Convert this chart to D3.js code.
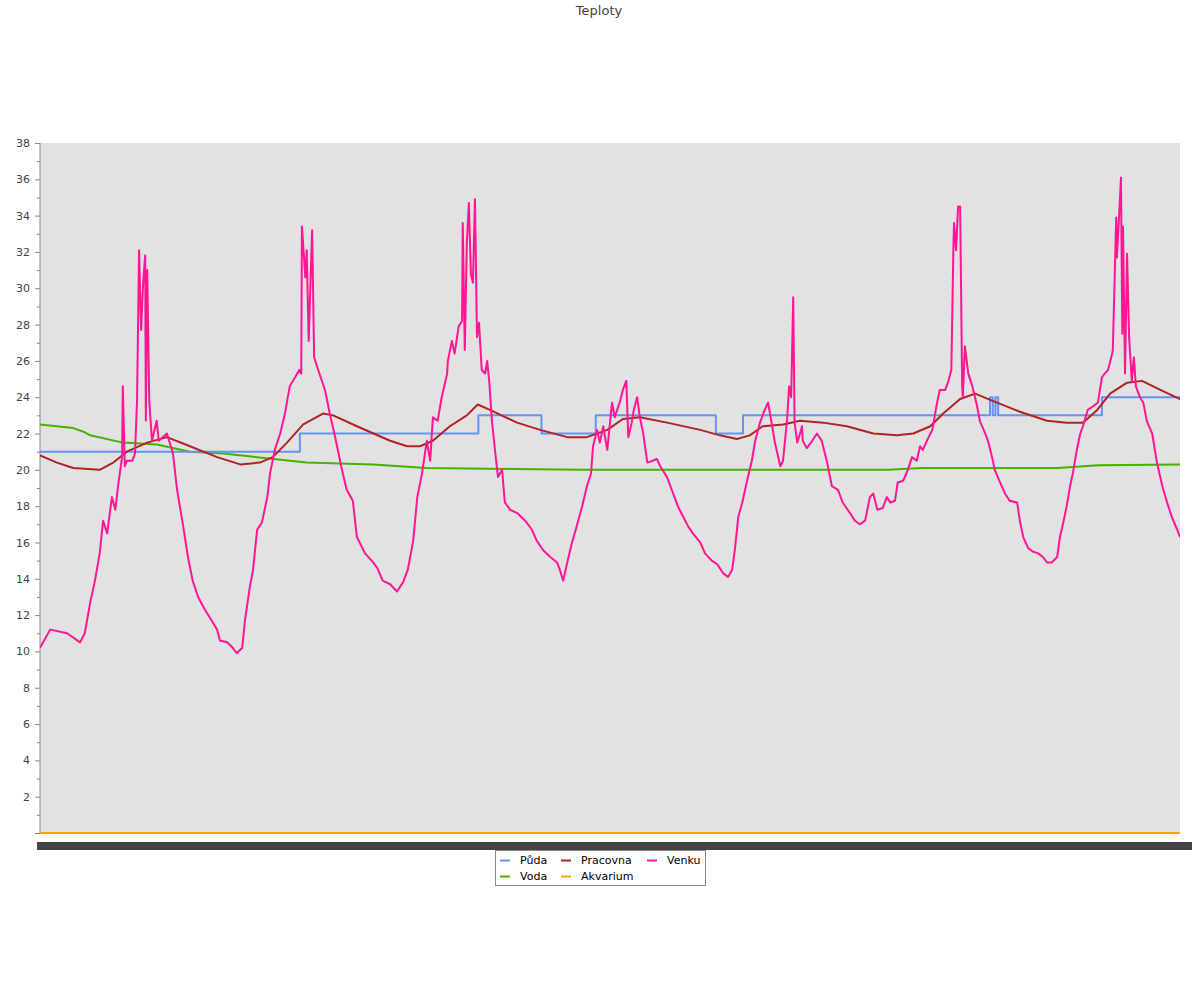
<!DOCTYPE html>
<html><head><meta charset="utf-8">
<script src="https://cdn.jsdelivr.net/npm/d3@7"></script>
<style>body{margin:0;background:#fff;font-family:"DejaVu Sans",sans-serif;}</style>
</head><body>
<script>
const title = "Teploty";
const seriesNames = ["Půda","Pracovna","Venku","Voda","Akvarium"];
const seriesColors = ["#6495ed","#b22222","#ff1493","#44b400","#ffa500"];
const yTicks = [2,4,6,8,10,12,14,16,18,20,22,24,26,28,30,32,34,36,38];
const yMinor = [0,1,3,5,7,9,11,13,15,17,19,21,23,25,27,29,31,33,35,37];

// time in hours, value in °C
const puda = [[0,21],[38.3,22],[64.6,23],[73.9,22],[81.9,23],[99.6,22],[103.6,23],[140.0,24],[140.4,23],[140.8,24],[141.2,23],[156.5,24],[168,24]];
const pracovna = [[0,20.8],[2.5,20.4],[4.9,20.1],[8.8,20.0],[10.8,20.4],[12.8,21.0],[15.8,21.5],[18.7,21.8],[22.1,21.3],[26.1,20.7],[29.5,20.3],[32.4,20.4],[34.3,20.7],[36.4,21.5],[38.8,22.5],[41.7,23.1],[43.2,23.0],[46.7,22.4],[51.6,21.6],[54.1,21.3],[56.0,21.3],[57.9,21.6],[60.4,22.4],[62.9,23.0],[64.5,23.6],[66.3,23.3],[70.3,22.6],[73.7,22.2],[77.7,21.8],[80.6,21.8],[83.6,22.2],[85.9,22.8],[88.4,22.9],[92.4,22.6],[97.3,22.2],[100.2,21.9],[102.7,21.7],[104.6,21.9],[106.5,22.4],[109.5,22.5],[112.0,22.7],[115.4,22.6],[118.9,22.4],[122.8,22.0],[126.3,21.9],[128.7,22.0],[131.2,22.4],[133.1,23.1],[135.6,23.9],[137.8,24.2],[140.4,23.8],[144.4,23.2],[148.4,22.7],[151.3,22.6],[153.7,22.6],[155.8,23.3],[157.7,24.2],[160.2,24.8],[162.4,24.9],[165.1,24.4],[168,23.9]];
const venku = [[0,10.2],[1.5,11.2],[4.0,11.0],[5.9,10.5],[6.6,11.0],[7.4,12.7],[8.1,13.9],[8.8,15.4],[9.3,17.2],[9.9,16.5],[10.6,18.5],[11.1,17.8],[11.5,19.1],[12.1,20.7],[12.2,24.6],[12.5,20.2],[12.8,20.5],[13.6,20.5],[14.0,20.9],[14.3,23.8],[14.6,32.1],[14.9,27.7],[15.2,30.3],[15.5,31.8],[15.6,22.7],[15.8,31.0],[16.1,23.8],[16.5,21.6],[17.2,22.7],[17.5,21.6],[18.7,22.0],[19.6,20.9],[20.2,18.9],[21.1,16.9],[21.8,15.2],[22.5,13.9],[23.3,13.0],[24.3,12.3],[25.3,11.7],[26.1,11.2],[26.5,10.6],[27.6,10.5],[28.4,10.2],[29.0,9.9],[29.8,10.2],[30.2,11.7],[30.9,13.5],[31.4,14.5],[32.0,16.7],[32.7,17.1],[33.5,18.5],[33.9,19.8],[34.6,21.1],[35.4,22.0],[36.1,23.1],[36.8,24.6],[37.6,25.1],[38.2,25.5],[38.5,25.3],[38.6,33.4],[39.1,30.6],[39.3,32.1],[39.6,27.1],[40.1,33.2],[40.4,26.2],[41.0,25.5],[42.0,24.4],[42.7,23.1],[43.5,21.8],[44.5,20.0],[45.2,18.9],[46.1,18.3],[46.7,16.3],[47.9,15.4],[49.1,14.9],[49.7,14.6],[50.5,13.9],[51.6,13.7],[52.6,13.3],[53.5,13.8],[54.2,14.5],[55.0,16.1],[55.6,18.5],[56.3,19.8],[57.0,21.6],[57.5,20.5],[57.9,22.9],[58.6,22.7],[59.2,24.0],[60.0,25.3],[60.1,26.0],[60.7,27.1],[61.1,26.4],[61.7,27.9],[62.2,28.2],[62.3,33.6],[62.6,26.6],[62.9,32.5],[63.2,34.7],[63.5,30.8],[63.8,30.3],[64.1,34.9],[64.4,27.3],[64.7,28.1],[65.1,25.5],[65.6,25.3],[65.9,26.0],[66.2,24.9],[66.6,22.7],[67.1,20.9],[67.5,19.6],[68.1,20.0],[68.5,18.2],[69.3,17.8],[70.4,17.6],[71.5,17.2],[72.5,16.7],[73.2,16.1],[74.1,15.6],[75.2,15.2],[76.2,14.9],[76.6,14.5],[77.1,13.9],[77.7,14.9],[78.4,16.0],[79.1,16.9],[79.9,18.0],[80.6,19.1],[81.2,19.8],[81.5,21.3],[82.1,22.2],[82.5,21.5],[83.0,22.4],[83.6,21.1],[84.3,23.7],[84.7,22.9],[85.5,23.8],[85.9,24.4],[86.4,24.9],[86.7,21.8],[87.2,22.6],[87.5,23.3],[88.0,24.0],[88.4,22.9],[88.9,22.0],[89.5,20.4],[90.3,20.5],[90.9,20.6],[91.4,20.2],[92.4,19.6],[93.3,18.7],[94.0,18.0],[94.8,17.4],[95.5,16.9],[96.2,16.5],[97.3,16.0],[98.0,15.4],[99.0,15.0],[99.8,14.8],[100.7,14.3],[101.4,14.1],[102.0,14.5],[102.4,15.6],[102.9,17.4],[103.5,18.2],[104.2,19.4],[104.9,20.5],[105.4,21.6],[106.1,22.6],[106.8,23.3],[107.3,23.7],[107.9,22.4],[108.3,21.5],[109.1,20.2],[109.5,20.5],[110.1,22.8],[110.4,24.6],[110.7,24.0],[111.0,29.5],[111.2,22.6],[111.6,21.5],[112.0,22.0],[112.3,22.4],[112.4,21.6],[113.0,21.2],[113.8,21.6],[114.5,22.0],[115.2,21.6],[116.0,20.4],[116.7,19.1],[117.6,18.9],[118.3,18.2],[119.4,17.6],[120.1,17.2],[120.8,17.0],[121.6,17.2],[122.3,18.5],[122.8,18.7],[123.4,17.8],[124.2,17.9],[124.8,18.5],[125.3,18.2],[126.0,18.3],[126.4,19.3],[127.2,19.4],[127.9,20.0],[128.5,20.7],[129.2,20.5],[129.7,21.3],[130.1,21.1],[130.7,21.6],[131.5,22.2],[132.2,23.7],[132.6,24.4],[133.4,24.4],[133.8,24.8],[134.3,25.5],[134.6,32.1],[134.7,33.6],[135.0,32.1],[135.3,34.5],[135.6,34.5],[135.9,24.6],[136.0,24.0],[136.3,26.8],[136.8,25.3],[137.4,24.6],[138.1,23.5],[138.5,22.7],[139.3,22.0],[139.7,21.6],[140.3,20.7],[140.7,20.0],[141.5,19.3],[142.2,18.7],[142.9,18.3],[144.0,18.2],[144.4,17.2],[144.9,16.3],[145.6,15.7],[146.3,15.5],[147.1,15.4],[147.8,15.2],[148.4,14.9],[149.1,14.9],[149.9,15.2],[150.3,16.3],[150.8,17.1],[151.3,18.0],[151.8,19.1],[152.2,19.8],[152.8,21.1],[153.3,22.0],[153.7,22.4],[154.4,23.3],[155.2,23.5],[155.9,23.7],[156.5,25.1],[156.9,25.3],[157.4,25.5],[158.0,26.4],[158.1,26.6],[158.6,33.9],[158.7,31.7],[159.0,33.8],[159.3,36.1],[159.5,27.5],[159.6,33.4],[159.9,25.3],[160.2,31.9],[160.5,27.3],[160.9,24.9],[161.2,26.2],[161.5,24.6],[162.1,24.0],[162.6,23.7],[163.1,22.7],[163.9,22.0],[164.6,20.4],[165.4,19.1],[166.1,18.2],[166.8,17.4],[167.6,16.7],[168.0,16.3]];
const voda = [[0,22.5],[4.9,22.3],[6.4,22.1],[7.4,21.9],[12.2,21.5],[17.2,21.4],[22.1,21.0],[27.0,20.9],[32.0,20.7],[39.3,20.4],[49.1,20.3],[53.0,20.2],[57.0,20.1],[70,20.05],[80,20.0],[100,20.0],[115,20.0],[125,20.0],[130,20.1],[150,20.1],[156,20.25],[168,20.3]];
const akvarium = [[0,0],[168,0]];
const seriesData = [puda, pracovna, venku, voda, akvarium];
const drawOrder = [4,3,0,1,2];

const W = 1200, H = 1000;
const svg = d3.select("body").append("svg").attr("width",W).attr("height",H);
svg.append("rect").attr("width",W).attr("height",H).attr("fill","#fff");

const x = d3.scaleLinear().domain([0,168]).range([40,1180]);
const y = d3.scaleLinear().domain([0,38]).range([833,143]);

svg.append("text").attr("x",599).attr("y",15).attr("text-anchor","middle")
  .attr("font-size",13).attr("fill","#444").text(title);

svg.append("rect").attr("x",x(0)).attr("y",y(38)).attr("width",x(168)-x(0)).attr("height",y(0)-y(38)).attr("fill","#e2e2e2");

svg.append("clipPath").attr("id","clip").append("rect")
  .attr("x",x(0)).attr("y",y(38)-2).attr("width",x(168)-x(0)).attr("height",y(0)-y(38)+4);

const yAxis = svg.append("g").attr("transform",`translate(${x(0)},0)`)
  .call(d3.axisLeft(y).tickValues(yTicks).tickSize(5).tickPadding(5).tickFormat(d3.format("d")));
yAxis.select(".domain").attr("stroke","#888").attr("d",`M0,${y(38)}V${y(0)}`);
yAxis.selectAll(".tick line").attr("stroke","#888");
yAxis.selectAll(".tick text").attr("fill","#444").attr("font-size",11).attr("font-family","DejaVu Sans");
svg.append("g").selectAll("line").data(yMinor).join("line")
  .attr("x1",x(0)).attr("x2",d=>x(0)-(d===0?5:3)).attr("y1",d=>y(d)+0.5).attr("y2",d=>y(d)+0.5)
  .attr("stroke","#888");

const line = d3.line().x(d=>x(d[0])).y(d=>y(d[1]));
const g = svg.append("g").attr("clip-path","url(#clip)");
drawOrder.forEach(i=>{
  const ln = i===0 ? d3.line().x(d=>x(d[0])).y(d=>y(d[1])).curve(d3.curveStepAfter) : line;
  g.append("path").datum(seriesData[i]).attr("d",ln).attr("fill","none")
    .attr("stroke",seriesColors[i]).attr("stroke-width",2).attr("stroke-linejoin","round");
});

// dense, overlapping time-axis labels band
svg.append("rect").attr("x",37).attr("y",842).attr("width",1155).attr("height",8).attr("fill","#444");

// legend
const lg = svg.append("g");
lg.append("rect").attr("x",495.5).attr("y",850.5).attr("width",210).attr("height",35)
  .attr("fill","#fff").attr("stroke","#888");
const legPos = [[500,860],[561,860],[647,860],[500,876],[561,876]];
seriesNames.forEach((n,i)=>{
  const [lx,ly] = legPos[i];
  lg.append("line").attr("x1",lx).attr("x2",lx+10).attr("y1",ly+0.5).attr("y2",ly+0.5)
    .attr("stroke",seriesColors[i]).attr("stroke-width",2);
  lg.append("text").attr("x",lx+20).attr("y",ly+4).attr("font-size",11).attr("fill","#000").text(n);
});
</script>
</body></html>
